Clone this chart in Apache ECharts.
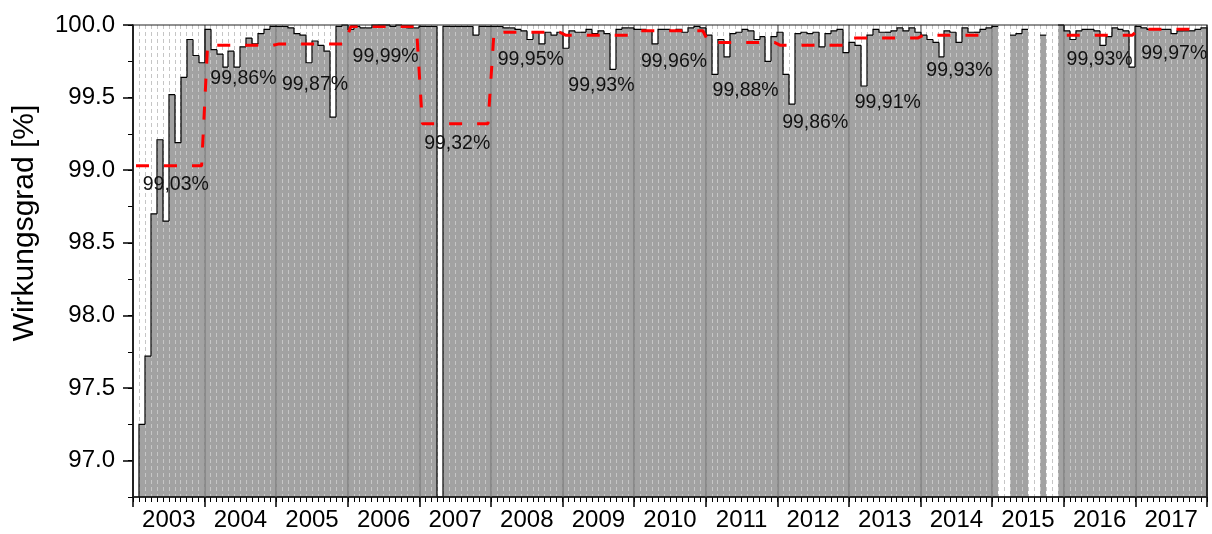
<!DOCTYPE html>
<html>
<head>
<meta charset="utf-8">
<script src="https://cdn.jsdelivr.net/npm/echarts@6/dist/echarts.min.js"></script>
<style>
  html, body { margin: 0; padding: 0; background: #fff; }
  #chart { width: 1212px; height: 534px; }
</style>
</head>
<body>
<div id="chart"></div>
<script>
// Years on the x axis
const years = ['2003', '2004', '2005', '2006', '2007', '2008', '2009', '2010',
               '2011', '2012', '2013', '2014', '2015', '2016', '2017'];

// Monthly efficiency in percent, Jan..Dec (null = no measurement)
const eff2003 = [null, 97.25, 97.72, 98.70, 99.21, 98.65, 99.52, 99.19, 99.64, 99.90, 99.79, 99.74];
const eff2004 = [99.97, 99.83, 99.80, 99.71, 99.82, 99.71, 99.85, 99.91, 99.87, 99.94, 99.97, 99.99];
const eff2005 = [99.99, 99.99, 99.98, 99.94, 99.93, 99.74, 99.89, 99.86, 99.82, 99.365, 99.99, 100.0];
const eff2006 = [99.97, 99.99, 99.98, 99.98, 100.0, 100.0, 100.0, 99.99, 100.0, 99.99, 99.98, 99.98];
const eff2007 = [99.99, 99.99, 99.99, 92.0, 99.99, 99.99, 99.99, 99.99, 99.99, 99.93, 99.99, 99.99];
const eff2008 = [99.99, 99.99, 99.98, 99.98, 99.97, 99.96, 99.90, 99.95, 99.87, 99.95, 99.93, 99.95];
const eff2009 = [99.84, 99.96, 99.95, 99.95, 99.97, 99.94, 99.96, 99.94, 99.695, 99.97, 99.98, 99.98];
const eff2010 = [99.97, 99.97, 99.96, 99.87, 99.97, 99.97, 99.96, 99.97, 99.95, 99.98, 99.99, 99.98];
const eff2011 = [99.93, 99.66, 99.90, 99.78, 99.94, 99.95, 99.97, 99.96, 99.90, 99.92, 99.75, 99.92];
const eff2012 = [99.95, 99.66, 99.455, 99.94, 99.95, 99.94, 99.95, 99.85, 99.94, 99.96, 99.97, 99.81];
const eff2013 = [99.88, 99.86, 99.58, 99.93, 99.97, 99.95, 99.95, 99.96, 99.98, 99.96, 99.98, 99.95];
const eff2014 = [99.93, 99.90, 99.88, 99.78, 99.96, 99.95, 99.88, 99.98, 99.95, 99.95, 99.97, 99.98];
const eff2015 = [99.99, null, null, 99.93, 99.94, 99.97, null, null, 99.93, null, null, 100.0];
const eff2016 = [99.96, 99.90, 99.96, 99.97, 99.97, 99.96, 99.86, 99.92, 99.98, 99.97, 99.96, 99.71];
const eff2017 = [99.99, 99.98, 99.97, 99.97, 99.97, 99.97, 99.94, 99.96, 99.96, 99.96, 99.97, 99.98];

// Annual mean efficiency (null = no annual value)
const annualMean = [99.03, 99.86, 99.87, 99.99, 99.32, 99.95, 99.93, 99.96,
                    99.88, 99.86, 99.91, 99.93, null, 99.93, 99.97];

// Labelled y ticks and the unlabelled quarter ticks between them
const yMajorTicks = [97.0, 97.5, 98.0, 98.5, 99.0, 99.5, 100.0];

// Placement of the annual-mean labels relative to the year centre [dx, dy] in px
const meanLabelShift = [[7, 19], [3, 33], [3, 41], [2, 30], [2, 20], [4, 27], [3, 50], [4, 31],
                        [4, 48], [2, 77], [3, 65], [3, 35], null, [0, 24], [3, 24]];

const Y_MIN = 96.75, Y_MAX = 100.0;
const FONT = '"Liberation Sans", Arial, Helvetica, sans-serif';

const monthly = [].concat(eff2003, eff2004, eff2005, eff2006, eff2007, eff2008, eff2009, eff2010,
                          eff2011, eff2012, eff2013, eff2014, eff2015, eff2016, eff2017);
const nMonths = monthly.length;
const firstIdx = monthly.findIndex(v => v != null);
const monthData = monthly.map((v, i) => [i, v == null ? Y_MIN : v]);

// Step line through the annual means: one flat segment per year
const meanLine = [];
annualMean.forEach((v, k) => {
  const m0 = k * 12;
  if (v == null) { meanLine.push([m0 + 6, null]); return; }
  meanLine.push([m0 + 0.5, v], [m0 + 11.5, v]);
});
const meanLabels = annualMean.map((v, k) => [k * 12 + 6, v == null ? Y_MIN : v, k]);

function clampY(v) { return Math.max(Math.min(v, Y_MAX), Y_MIN); }

// Grey column for one month
function renderFill(params, api) {
  const i = api.value(0);
  const v = monthly[i];
  if (v == null) return null;
  const a = api.coord([i, clampY(v)]);
  const b = api.coord([i + 1, Y_MIN]);
  const x0 = Math.round(a[0]), x1 = Math.round(b[0]);
  return {
    type: 'rect',
    shape: { x: x0, y: a[1], width: x1 - x0, height: b[1] - a[1] },
    style: { fill: '#a2a2a2' }
  };
}

// Black step outline along the column tops
function renderEdge(params, api) {
  const i = api.value(0);
  const v = monthly[i];
  if (v == null) return null;
  const top = clampY(v);
  const prev = i > 0 ? monthly[i - 1] : null;
  const a = api.coord([i, top]);
  const b = api.coord([i + 1, top]);
  const pts = [];
  if (prev != null) pts.push(api.coord([i, clampY(prev)]));
  else if (i === firstIdx) pts.push(api.coord([i, Y_MIN]));
  pts.push(a, b);
  if (i === nMonths - 1) pts.push(api.coord([i + 1, Y_MIN]));
  return {
    type: 'polyline',
    shape: { points: pts.map(p => [Math.round(p[0]), p[1]]) },
    style: { stroke: '#000', lineWidth: 1.2, fill: null }
  };
}

// Text "99,86%" under each annual mean
function renderMeanLabel(params, api) {
  const k = api.value(2);
  const v = annualMean[k];
  if (v == null) return null;
  const p = api.coord([api.value(0), v]);
  const s = meanLabelShift[k];
  return {
    type: 'text',
    x: p[0] + s[0],
    y: p[1] + s[1],
    style: {
      text: v.toFixed(2).replace('.', ',') + '%',
      fill: '#111',
      font: '19.5px ' + FONT,
      align: 'center',
      verticalAlign: 'middle'
    }
  };
}

const chart = echarts.init(document.getElementById('chart'), null, { renderer: 'canvas' });
chart.setOption({
  animation: false,
  backgroundColor: '#fff',
  grid: {
    left: 133, right: 5, top: 25, bottom: 37,
    show: true, borderColor: '#222', borderWidth: 1.2, z: 8,
    backgroundColor: 'transparent'
  },
  xAxis: [
    {
      type: 'value', min: 0, max: nMonths, interval: 1, position: 'bottom', z: 2,
      axisLine: { show: true, lineStyle: { color: '#000', width: 1.5 } },
      axisTick: { show: true, length: 5, lineStyle: { color: '#000', width: 1 } },
      axisLabel: { show: false },
      splitLine: { show: true, lineStyle: { color: '#c6c6c6', width: 1, type: [4, 3] } }
    },
    {
      type: 'category', data: years, boundaryGap: true, position: 'bottom', z: 3,
      axisLine: { show: false },
      axisTick: { show: true, interval: 0, length: 10, lineStyle: { color: '#000', width: 1.5 } },
      axisLabel: { interval: 0, margin: 11, color: '#000', fontSize: 24, fontFamily: FONT },
      splitLine: { show: true, interval: 0, lineStyle: { color: '#808080', width: 1.5 } }
    }
  ],
  yAxis: [
    {
      type: 'value', min: Y_MIN, max: Y_MAX, interval: 0.25, position: 'left', z: 6,
      axisLine: { show: true, lineStyle: { color: '#000', width: 1.5 } },
      axisTick: { show: true, customValues: yMajorTicks, length: 10, lineStyle: { color: '#000', width: 1.5 } },
      axisLabel: {
        margin: 18, color: '#000', fontSize: 24, fontFamily: FONT,
        formatter: v => (yMajorTicks.some(t => Math.abs(t - v) < 1e-6) ? v.toFixed(1) : '')
      },
      splitLine: { show: false }
    },
    {
      type: 'value', min: Y_MIN, max: Y_MAX, interval: 0.25, position: 'left', z: 6,
      axisLine: { show: false },
      axisTick: { show: true, length: 5, lineStyle: { color: '#000', width: 1 } },
      axisLabel: { show: false },
      splitLine: { show: false }
    }
  ],
  graphic: [
    {
      type: 'text', x: 25, y: 223, rotation: Math.PI / 2,
      style: {
        text: 'Wirkungsgrad [%]', fill: '#000', font: '30px ' + FONT,
        align: 'center', verticalAlign: 'middle'
      }
    }
  ],
  series: [
    {
      type: 'custom', name: 'Monatswert', xAxisIndex: 0, yAxisIndex: 0, z: 1,
      data: monthData, renderItem: renderFill, silent: true
    },
    {
      type: 'custom', name: 'Kontur', xAxisIndex: 0, yAxisIndex: 0, z: 4,
      data: monthData, renderItem: renderEdge, silent: true
    },
    {
      type: 'line', name: 'Jahresmittel', xAxisIndex: 0, yAxisIndex: 0, z: 5,
      data: meanLine, showSymbol: false, symbol: 'none', connectNulls: false,
      lineStyle: { color: '#ff0000', width: 3, type: [13, 15] }, silent: true
    },
    {
      type: 'custom', name: 'Jahresmittel-Text', xAxisIndex: 0, yAxisIndex: 0, z: 6,
      data: meanLabels, renderItem: renderMeanLabel, silent: true
    }
  ]
});
</script>
</body>
</html>
